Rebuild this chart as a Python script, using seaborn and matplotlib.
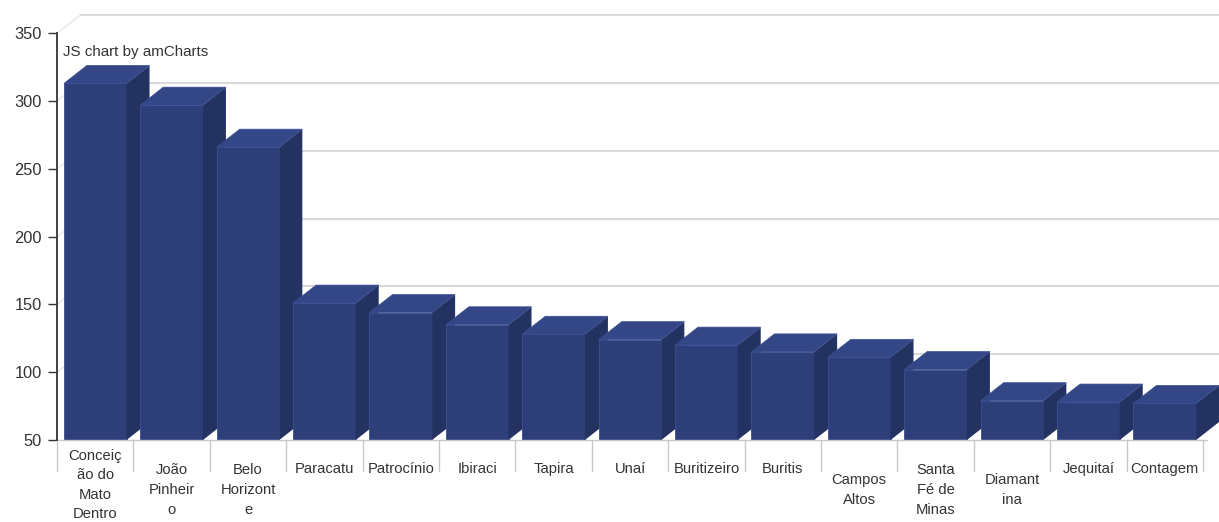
import matplotlib
matplotlib.use("Agg")
import matplotlib.pyplot as plt
from matplotlib.patches import Polygon
import seaborn as sns
import pandas as pd

# ---- data ----
categories = ["Conceição do Mato Dentro", "João Pinheiro", "Belo Horizonte", "Paracatu",
              "Patrocínio", "Ibiraci", "Tapira", "Unaí", "Buritizeiro", "Buritis",
              "Campos Altos", "Santa Fé de Minas", "Diamantina", "Jequitaí", "Contagem"]
values = [313, 297, 266, 151, 144, 135, 128, 124, 120, 115, 111, 102, 79, 78, 77]
tick_labels = ["Conceiç\não do\nMato\nDentro", "João\nPinheir\no", "Belo\nHorizont\ne",
               "Paracatu", "Patrocínio", "Ibiraci", "Tapira", "Unaí", "Buritizeiro",
               "Buritis", "Campos\nAltos", "Santa\nFé de\nMinas", "Diamant\nina",
               "Jequitaí", "Contagem"]
y_ticks = [50, 100, 150, 200, 250, 300, 350]

df = pd.DataFrame({"city": categories, "value": values})

sns.set_theme(style="white")
plt.rcParams["font.family"] = ["Liberation Sans", "DejaVu Sans"]

W, H = 1219, 522
fig = plt.figure(figsize=(W / 100, H / 100), dpi=100)
# geometry in pixels
left_px, base_px = 57, 440
cat_px = (1203 - 57) / 15.0
unit_px = (440 - 33.3) / 300.0
ax = fig.add_axes([left_px / W, (H - base_px) / H, (W - left_px) / W, base_px / H])
xlim = (-0.5, -0.5 + (W - left_px) / cat_px)
ylim = (50, 50 + base_px / unit_px)

front_c, side_c, top_c = "#2d3e79", "#243261", "#334787"
bw = 0.82
dx = 23 / cat_px
dy = 18 / unit_px

sns.barplot(data=df, x="city", y="value", order=categories, color=front_c,
            saturation=1, width=bw, ax=ax, zorder=5)
ax.set_xlim(*xlim)
ax.set_ylim(*ylim)

# back wall grid
for v in y_ticks[1:]:
    ax.plot([-0.5 + dx, xlim[1]], [v + dy, v + dy], color="#d9d9d9", lw=1.5, zorder=1,
            solid_capstyle="butt")
    ax.plot([-0.5, -0.5 + dx], [v, v + dy], color="#e6e6e6", lw=1.0, zorder=1)

for i, (p, v) in enumerate(zip(ax.patches, values)):
    p.set_facecolor(front_c)
    p.set_edgecolor("#3c4f93")
    p.set_linewidth(0.6)
    p.set_zorder(10 + i)
    x0 = p.get_x()
    x1 = x0 + p.get_width()
    side = Polygon([(x1, 50), (x1 + dx, 50 + dy), (x1 + dx, v + dy), (x1, v)],
                   closed=True, facecolor=side_c, edgecolor="none", zorder=10 + i)
    top = Polygon([(x0, v), (x0 + dx, v + dy), (x1 + dx, v + dy), (x1, v)],
                  closed=True, facecolor=top_c, edgecolor="#3c4f93", lw=0.5, zorder=10 + i)
    ax.add_patch(side)
    ax.add_patch(top)

# floor line and category separators
ax.plot([-0.5, 14.55], [50, 50], color="#c8c8c8", lw=1.0, zorder=30, clip_on=False)
for k in range(16):
    ax.plot([k - 0.5, k - 0.5], [50, 50 - 31 / unit_px], color="#c8c8c8", lw=1.0,
            zorder=30, clip_on=False)

# category labels
offsets = {1: 29, 2: 50, 3: 50, 4: 45}
for i, lab in enumerate(tick_labels):
    n = lab.count("\n") + 1
    off_px = offsets[n]
    ax.annotate(lab, xy=(i, 50), xytext=(0, -off_px * 0.72), textcoords="offset points",
                ha="center", va="center", fontsize=10.6, color="#333333",
                linespacing=1.5, annotation_clip=False)

ax.set_xticks([])
ax.set_xlabel("")
ax.set_ylabel("")
ax.set_yticks(y_ticks)
ax.set_yticklabels([str(t) for t in y_ticks])
ax.tick_params(axis="y", left=True, length=6.5, width=1.0, color="#333333",
               labelsize=11.8, labelcolor="#333333", pad=4.5)
for s in ["top", "right", "bottom"]:
    ax.spines[s].set_visible(False)
ax.spines["left"].set_bounds(50, 350)
ax.spines["left"].set_color("#333333")
ax.spines["left"].set_linewidth(1.3)
ax.spines["left"].set_zorder(40)

fig.text(63 / W, 1 - 52 / H, "JS chart by amCharts", fontsize=10.9, color="#333333",
         ha="left", va="center")

fig.savefig("out.png", dpi=100, facecolor="white")
